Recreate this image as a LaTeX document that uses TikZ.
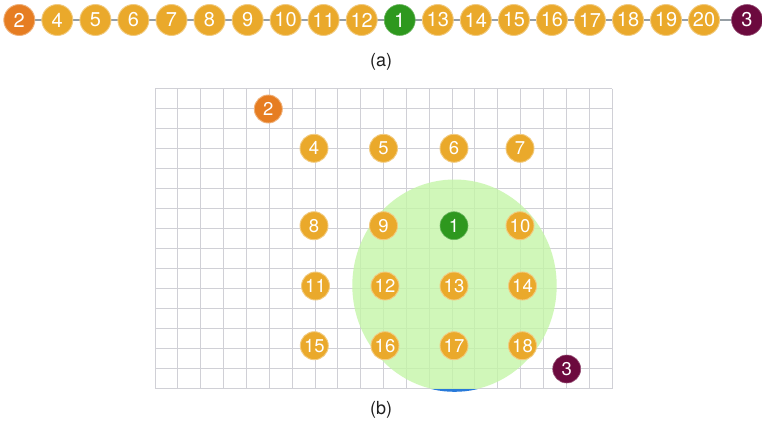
\documentclass[tikz,border=0pt]{standalone}
\usepackage{fontspec}
\setmainfont{TeX Gyre Heros}
\definecolor{cyel}{RGB}{234,169,43}
\definecolor{corg}{RGB}{230,125,34}
\definecolor{cgrn}{RGB}{46,152,30}
\definecolor{cpur}{RGB}{108,10,62}
\definecolor{cgrid}{RGB}{208,208,214}
\definecolor{clgrn}{RGB}{196,246,166}
\definecolor{cblue}{RGB}{40,122,218}
\definecolor{cline}{RGB}{150,158,164}
\begin{document}
\begin{tikzpicture}[x=1pt,y=-1pt,
  dot/.style={circle,inner sep=0pt,text=white},
  topdot/.style={dot,minimum size=31pt,font=\fontsize{20}{20}\selectfont},
  botdot/.style={dot,minimum size=28pt,font=\fontsize{18.5}{18.5}\selectfont},
  ydot/.style={fill=cyel,draw=cyel!60!white,line width=0.9pt},
  odot/.style={fill=corg,draw=corg!60!white,line width=0.9pt},
  gdot/.style={fill=cgrn,draw=cgrn!70!white,line width=0.6pt},
  pdot/.style={fill=cpur,draw=cpur!70!white,line width=0.6pt},
  captext/.style={font=\fontsize{18}{18}\selectfont,text=black!88}]
\useasboundingbox (0,0) rectangle (762,434);
\fill[white] (0,0) rectangle (762,434);
% ---------- (a) ----------
\coordinate (la) at (19.3,20);
\coordinate (lb) at (747,20);
\draw[cline,line width=1.4pt] (la) -- (lb);
\foreach \lab/\x/\st in {2/19.3/odot,4/57.3/ydot,5/95.4/ydot,6/133.4/ydot,7/171.5/ydot,8/209.5/ydot,9/247.6/ydot,10/285.6/ydot,11/323.6/ydot,12/361.7/ydot,1/399.7/gdot,13/437.8/ydot,14/475.8/ydot,15/513.9/ydot,16/551.9/ydot,17/589.9/ydot,18/628/ydot,19/666/ydot,20/704/ydot,3/747/pdot}
  \node[topdot,\st] (t\lab) at (\x,20) {\lab};
\node[captext] (capa) at (381,62) {(a)};
% ---------- (b) ----------
\foreach \i in {0,...,20}
  \draw[cgrid,line width=0.9pt] (155+22.85*\i,88.5) -- (155+22.85*\i,388.5);
\foreach \j in {0,...,15}
  \draw[cgrid,line width=0.9pt] (155,88.5+20*\j) -- (612,88.5+20*\j);
\begin{scope}
  \clip (150,80) rectangle (620,388.5);
  \fill[clgrn,opacity=0.78] (454.5,285.5) ellipse [x radius=102.2, y radius=106];
\end{scope}
\begin{scope}
  \clip (150,389) rectangle (620,400);
  \fill[cblue] (454.5,285.5) ellipse [x radius=102.2, y radius=106.3];
\end{scope}
\node[botdot,odot] (b2) at (268.3,109) {2};
\node[botdot,ydot] (b4) at (314,148.3) {4};
\node[botdot,ydot] (b5) at (383.5,148.3) {5};
\node[botdot,ydot] (b6) at (454,148.3) {6};
\node[botdot,ydot] (b7) at (520,148.3) {7};
\node[botdot,ydot] (b8) at (314,225.7) {8};
\node[botdot,ydot] (b9) at (383.5,225.7) {9};
\node[botdot,gdot] (b1) at (454,225.7) {1};
\node[botdot,ydot] (b10) at (520,225.7) {10};
\node[botdot,ydot] (b11) at (315.5,286) {11};
\node[botdot,ydot] (b12) at (385,286) {12};
\node[botdot,ydot] (b13) at (454,286) {13};
\node[botdot,ydot] (b14) at (522.5,286) {14};
\node[botdot,ydot] (b15) at (314.3,345.7) {15};
\node[botdot,ydot] (b16) at (385,345.7) {16};
\node[botdot,ydot] (b17) at (454,345.7) {17};
\node[botdot,ydot] (b18) at (522.5,345.7) {18};
\node[botdot,pdot] (b3) at (566.7,369) {3};
\node[captext] (capb) at (381,410) {(b)};
\end{tikzpicture}
\end{document}
